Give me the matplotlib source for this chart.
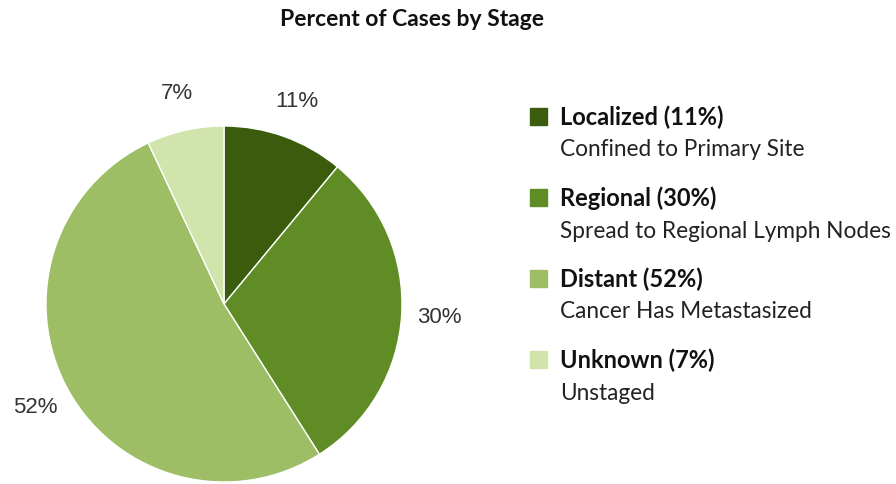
import matplotlib
matplotlib.use("Agg")
import matplotlib.pyplot as plt
from matplotlib.patches import Rectangle

# data
stages = ["Localized", "Regional", "Distant", "Unknown"]
percents = [11, 30, 52, 7]
descriptions = ["Confined to Primary Site", "Spread to Regional Lymph Nodes",
                "Cancer Has Metastasized", "Unstaged"]
colors = ["#3b5c0c", "#5f8c24", "#9dbe65", "#d0e4ab"]

W, H = 896, 484
fig = plt.figure(figsize=(W / 100, H / 100), dpi=100)

# pie axes, centre (224, 304) px, radius 178 px
cx, cy, R = 224, 304, 178
ax = fig.add_axes([(cx - R) / W, (H - cy - R) / H, 2 * R / W, 2 * R / H])
wedges, texts = ax.pie(percents, colors=colors, startangle=90, counterclock=False,
                       labels=[f"{p}%" for p in percents], labeldistance=1.21,
                       wedgeprops=dict(edgecolor="white", linewidth=1),
                       textprops=dict(fontsize=16, family="Liberation Sans", color="#333333"))
for t in texts:
    t.set_ha("center")
    t.set_va("center")
ax.set_xlim(-1, 1)
ax.set_ylim(-1, 1)

fig.text(412 / W, 1 - 20 / H, "Percent of Cases by Stage", ha="center", va="center",
         fontsize=16.5, fontweight="bold", family="Lato", color="#111111")

# legend drawn by hand
for i, (s, p, d, c) in enumerate(zip(stages, percents, descriptions, colors)):
    y = 117 + i * 81
    fig.patches.append(Rectangle((530 / W, 1 - (y + 8) / H), 17 / W, 17 / H,
                                 transform=fig.transFigure, color=c))
    fig.text(560 / W, 1 - y / H, f"{s} ({p}%)", ha="left", va="center",
             fontsize=17, fontweight="bold", family="Lato", color="#111111")
    fig.text(560 / W, 1 - (y + 33) / H, d, ha="left", va="center",
             fontsize=16.3, family="Lato", color="#222222")

fig.savefig("out.png", dpi=100)
